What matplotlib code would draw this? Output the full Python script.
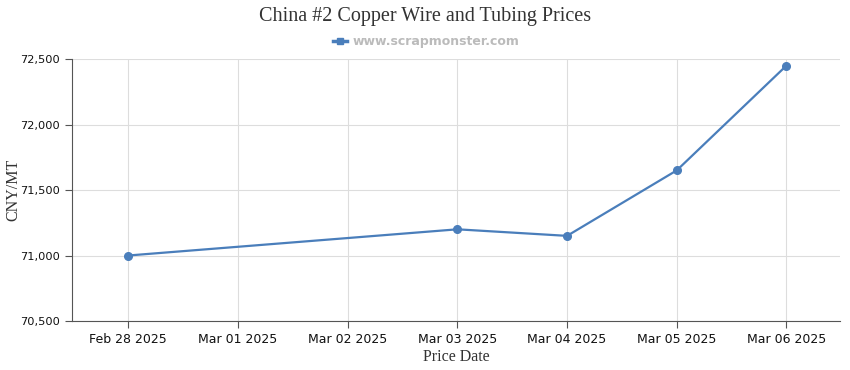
import matplotlib
matplotlib.use("Agg")
import matplotlib.pyplot as plt
import matplotlib.dates as mdates
import pandas as pd
from matplotlib.ticker import FuncFormatter

dates = pd.to_datetime(["2025-02-28", "2025-03-03", "2025-03-04", "2025-03-05", "2025-03-06"])
prices = [71000, 71200, 71150, 71650, 72450]
tick_dates = pd.date_range("2025-02-28", "2025-03-06", freq="D")
y_ticks = [70500, 71000, 71500, 72000, 72500]

line_color = "#4a7ebb"

fig = plt.figure(figsize=(8.5, 3.7), dpi=100)
ax = fig.add_axes([0.0847, 0.1324, 0.9035, 0.7081])

ax.plot(dates, prices, color=line_color, lw=1.6, marker="o", ms=5.5)

ax.set_xlim(tick_dates[0] - pd.Timedelta(hours=12.3), tick_dates[-1] + pd.Timedelta(hours=11.7))
ax.set_ylim(70500, 72500)
ax.set_xticks(tick_dates)
ax.xaxis.set_major_formatter(mdates.DateFormatter("%b %d %Y"))
ax.set_yticks(y_ticks)
ax.yaxis.set_major_formatter(FuncFormatter(lambda v, p: "{:,.0f}".format(v)))

ax.grid(True, color="#dddddd", lw=0.8)
ax.set_axisbelow(True)
for s in ["top", "right"]:
    ax.spines[s].set_visible(False)
for s in ["left", "bottom"]:
    ax.spines[s].set_color("#555555")
ax.tick_params(axis="both", colors="#555555", length=5, labelcolor="#111111")
for lab in ax.get_xticklabels():
    lab.set_fontfamily("DejaVu Sans")
    lab.set_fontsize(9)
for lab in ax.get_yticklabels():
    lab.set_fontfamily("DejaVu Sans")
    lab.set_fontsize(8.2)

ax.set_xlabel("Price Date", fontfamily="Liberation Serif", fontsize=11.5, color="#333333", labelpad=2)
ax.set_ylabel("CNY/MT", fontfamily="Liberation Serif", fontsize=11.5, color="#333333")
ax.yaxis.set_label_coords(-0.066, 0.5)

fig.text(0.5, 0.955, "China #2 Copper Wire and Tubing Prices", ha="center", va="center",
         fontfamily="Liberation Serif", fontsize=14.5, color="#333333")

# legend: line with square marker in the middle
fig.lines.append(plt.Line2D([333 / 850, 340 / 850, 347 / 850], [0.888, 0.888, 0.888],
                            color=line_color, lw=2.5, marker="s", ms=5, markevery=[1],
                            transform=fig.transFigure))
fig.text(353 / 850, 0.888, "www.scrapmonster.com", ha="left", va="center",
         fontsize=9, fontweight="bold", color="#bbbbbb")

fig.savefig("out.png", dpi=100)
